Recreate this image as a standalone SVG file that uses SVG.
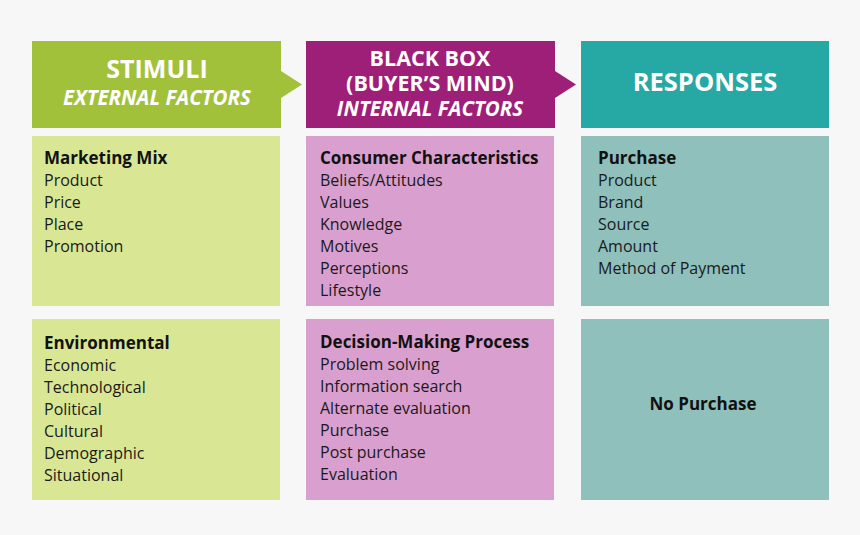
<svg xmlns="http://www.w3.org/2000/svg" width="860" height="535" viewBox="0 0 860 535">
<style>
.hd{fill:#fff;font-family:"Open Sans","Liberation Sans",sans-serif;font-weight:bold;text-anchor:middle}
.hi{font-style:italic;font-size:20.5px}
.t{font-family:"Open Sans","Liberation Sans",sans-serif;font-size:16px;fill:#1a1a1a}
.b{font-weight:bold;font-size:17px;fill:#111}
</style>
<rect width="860" height="535" fill="#f7f7f7"/>
<g id="connectors">
<polygon points="281,71 302,84.5 281,98" fill="#a2c13a"/>
<polygon points="555,71 576,84.5 555,98" fill="#9e1f78"/>
</g>
<g id="stimuli-header">
<rect x="32" y="41" width="249" height="87" fill="#a2c13a"/>
<text class="hd" x="157" y="78" font-size="25">STIMULI</text>
<text class="hd hi" x="157" y="105">EXTERNAL FACTORS</text>
</g>
<g id="blackbox-header">
<rect x="306" y="41" width="249" height="87" fill="#9e1f78"/>
<text class="hd" x="430" y="66" font-size="21.5">BLACK BOX</text>
<text class="hd" x="430" y="91" font-size="21.5">(BUYER’S MIND)</text>
<text class="hd hi" x="430" y="116">INTERNAL FACTORS</text>
</g>
<g id="responses-header">
<rect x="581" y="41" width="248" height="87" fill="#26a8a5"/>
<text class="hd" x="705" y="91" font-size="25.5">RESPONSES</text>
</g>
<g id="marketing-mix">
<rect x="32" y="136" width="248" height="170" fill="#d9e795"/>
<text class="t"><tspan class="b" x="44" y="164">Marketing Mix</tspan><tspan x="44" y="186">Product</tspan><tspan x="44" y="208">Price</tspan><tspan x="44" y="230">Place</tspan><tspan x="44" y="252">Promotion</tspan></text>
</g>
<g id="environmental">
<rect x="32" y="319" width="248" height="181" fill="#d9e795"/>
<text class="t"><tspan class="b" x="44" y="349">Environmental</tspan><tspan x="44" y="371">Economic</tspan><tspan x="44" y="393">Technological</tspan><tspan x="44" y="415">Political</tspan><tspan x="44" y="437">Cultural</tspan><tspan x="44" y="459">Demographic</tspan><tspan x="44" y="481">Situational</tspan></text>
</g>
<g id="consumer-characteristics">
<rect x="306" y="136" width="248" height="170" fill="#d9a0cf"/>
<text class="t"><tspan class="b" x="320" y="164">Consumer Characteristics</tspan><tspan x="320" y="186">Beliefs/Attitudes</tspan><tspan x="320" y="208">Values</tspan><tspan x="320" y="230">Knowledge</tspan><tspan x="320" y="252">Motives</tspan><tspan x="320" y="274">Perceptions</tspan><tspan x="320" y="296">Lifestyle</tspan></text>
</g>
<g id="decision-making">
<rect x="306" y="319" width="248" height="181" fill="#d9a0cf"/>
<text class="t"><tspan class="b" x="320" y="348">Decision-Making Process</tspan><tspan x="320" y="370">Problem solving</tspan><tspan x="320" y="392">Information search</tspan><tspan x="320" y="414">Alternate evaluation</tspan><tspan x="320" y="436">Purchase</tspan><tspan x="320" y="458">Post purchase</tspan><tspan x="320" y="480">Evaluation</tspan></text>
</g>
<g id="purchase">
<rect x="581" y="136" width="248" height="170" fill="#8fc0bc"/>
<text class="t"><tspan class="b" x="598" y="164">Purchase</tspan><tspan x="598" y="186">Product</tspan><tspan x="598" y="208">Brand</tspan><tspan x="598" y="230">Source</tspan><tspan x="598" y="252">Amount</tspan><tspan x="598" y="274">Method of Payment</tspan></text>
</g>
<g id="no-purchase">
<rect x="581" y="319" width="248" height="181" fill="#8fc0bc"/>
<text class="t b" x="703" y="410" text-anchor="middle">No Purchase</text>
</g>
</svg>
